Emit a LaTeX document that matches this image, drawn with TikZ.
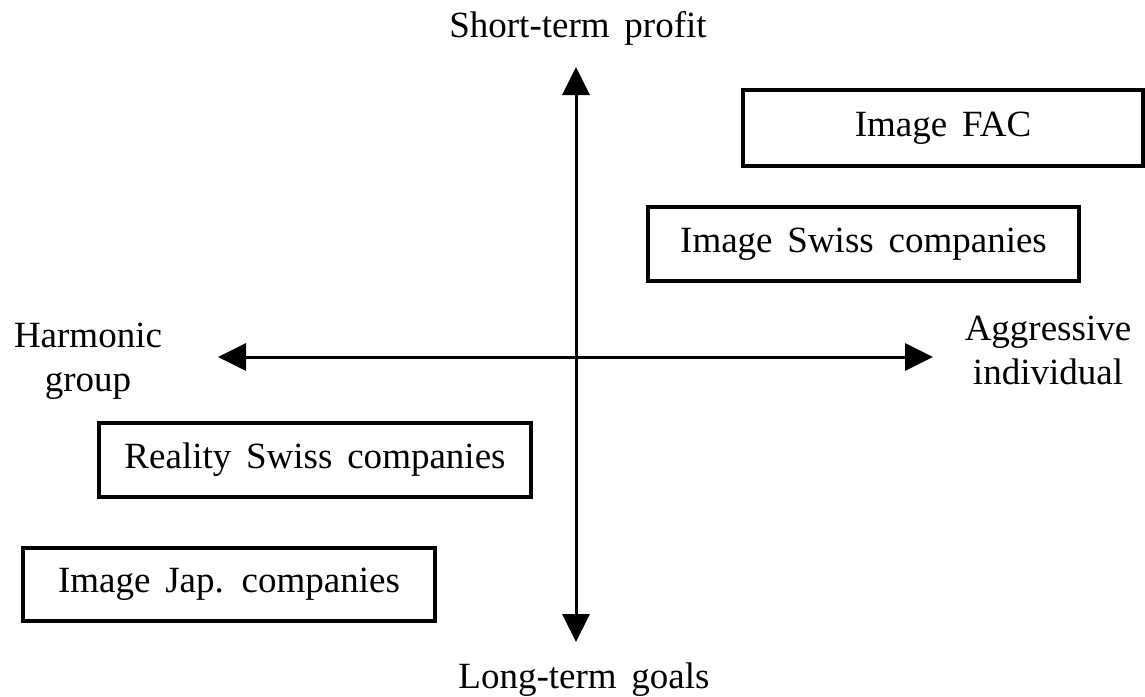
\documentclass[tikz,border=0pt]{standalone}
\usepackage{fontspec}
\setmainfont[WordSpace=1.6]{Liberation Serif}
\usetikzlibrary{arrows.meta}
\begin{document}
\begin{tikzpicture}[x=1pt,y=-1pt,
  txt/.style={font=\fontsize{37}{44}\selectfont, inner sep=0pt},
  box/.style={txt, draw, line width=3.5pt, inner sep=0pt, anchor=center},
  tip/.tip={Triangle[length=28pt,width=27pt]},
  axis/.style={line width=3pt, tip-tip}]
\useasboundingbox (0,0) rectangle (1145,696);
% axes
\coordinate (top) at (576,67);
\coordinate (bot) at (576,642);
\coordinate (lft) at (218,357);
\coordinate (rgt) at (933,357);
\draw[axis] (bot) -- (top);
\draw[axis] (lft) -- (rgt);
% axis labels
\node[txt] (st) at (578,28) {Short-term profit};
\node[txt] (lt) at (584,680) {Long-term goals};
\node[txt, align=center] (hg) at (88,361) {Harmonic\\group};
\node[txt, align=center] (ai) at (1048,350) {Aggressive\\individual};
% boxes
\node[box, minimum width=400pt, minimum height=76pt] (fac) at (943,128) {Image FAC};
\node[box, minimum width=431pt, minimum height=74pt] (isw) at (863.5,244) {Image Swiss companies};
\node[box, minimum width=432pt, minimum height=74pt] (rsw) at (315,460) {Reality Swiss companies};
\node[box, minimum width=412pt, minimum height=73pt] (jap) at (229,584.5) {Image Jap. companies};
\end{tikzpicture}
\end{document}
